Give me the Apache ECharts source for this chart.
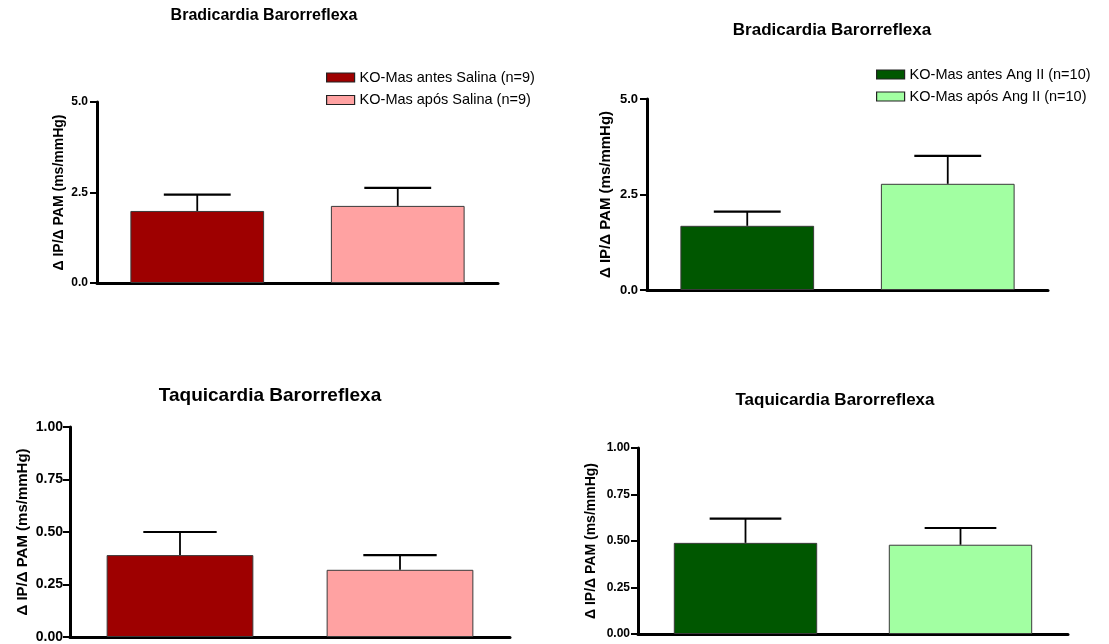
<!DOCTYPE html>
<html>
<head>
<meta charset="utf-8">
<title>Barorreflexa KO-Mas</title>
<script src="https://cdn.jsdelivr.net/npm/echarts@6/dist/echarts.min.js"></script>
<style>
  html, body { margin: 0; padding: 0; background: #fff; }
  #chart { width: 1109px; height: 644px; }
</style>
</head>
<body>
<div id="chart"></div>
<script>
// Group means and SEM (ms/mmHg)
const categories = ['antes', 'após'];

const seriesNames = {
  salinaAntes: 'KO-Mas antes Salina (n=9)',
  salinaApos: 'KO-Mas após Salina (n=9)',
  angAntes: 'KO-Mas antes Ang II (n=10)',
  angApos: 'KO-Mas após Ang II (n=10)'
};

const bradiSalinaMean = [1.99, 2.13];
const bradiSalinaSem = [0.45, 0.50];
const bradiAngMean = [1.68, 2.78];
const bradiAngSem = [0.37, 0.73];

const taquiSalinaMean = [0.39, 0.32];
const taquiSalinaSem = [0.11, 0.07];
const taquiAngMean = [0.49, 0.48];
const taquiAngSem = [0.13, 0.09];

const bradiTicks = { max: 5, interval: 2.5, digits: 1 };
const taquiTicks = { max: 1, interval: 0.25, digits: 2 };

const yTitle = 'Δ IP/Δ PAM (ms/mmHg)';
const titleBradi = 'Bradicardia Barorreflexa';
const titleTaqui = 'Taquicardia Barorreflexa';

const FONT = '"Liberation Sans", Arial, Helvetica, sans-serif';
const colors = {
  salinaAntes: '#9e0000',
  salinaApos: '#ffa2a2',
  angAntes: '#005700',
  angApos: '#a2ffa2'
};

// Panel layout: grid rectangles and text sizes
const panels = [
  { left: 97, top: 102, width: 401, height: 181, ticks: bradiTicks, mean: bradiSalinaMean, sem: bradiSalinaSem,
    names: [seriesNames.salinaAntes, seriesNames.salinaApos], cols: [colors.salinaAntes, colors.salinaApos],
    tickFont: 12, nameFont: 14, nameGap: 31, labelMargin: 9 },
  { left: 647, top: 99, width: 401, height: 191, ticks: bradiTicks, mean: bradiAngMean, sem: bradiAngSem,
    names: [seriesNames.angAntes, seriesNames.angApos], cols: [colors.angAntes, colors.angApos],
    tickFont: 13, nameFont: 15, nameGap: 34, labelMargin: 9 },
  { left: 70, top: 427, width: 440, height: 210, ticks: taquiTicks, mean: taquiSalinaMean, sem: taquiSalinaSem,
    names: [seriesNames.salinaAntes, seriesNames.salinaApos], cols: [colors.salinaAntes, colors.salinaApos],
    tickFont: 14, nameFont: 15, nameGap: 40, labelMargin: 7 },
  { left: 638, top: 448, width: 430, height: 186, ticks: taquiTicks, mean: taquiAngMean, sem: taquiAngSem,
    names: [seriesNames.angAntes, seriesNames.angApos], cols: [colors.angAntes, colors.angApos],
    tickFont: 12, nameFont: 14, nameGap: 40, labelMargin: 8 }
];

const grids = [], xAxes = [], yAxes = [], series = [];

panels.forEach(function (p, i) {
  grids.push({ left: p.left, top: p.top, width: p.width, height: p.height, containLabel: false });
  xAxes.push({
    type: 'category', gridIndex: i, data: categories,
    axisLine: { show: true, lineStyle: { color: '#000', width: 3 } },
    axisTick: { show: false }, axisLabel: { show: false }, splitLine: { show: false }
  });
  yAxes.push({
    type: 'value', gridIndex: i, min: 0, max: p.ticks.max, interval: p.ticks.interval,
    name: yTitle, nameLocation: 'middle', nameRotate: 90, nameGap: p.nameGap,
    nameTextStyle: { fontFamily: FONT, fontWeight: 'bold', fontSize: p.nameFont, color: '#000' },
    axisLine: { show: true, lineStyle: { color: '#000', width: 3 } },
    axisTick: { show: true, inside: false, length: 7, lineStyle: { color: '#000', width: 2 } },
    axisLabel: {
      margin: p.labelMargin, fontFamily: FONT, fontWeight: 'bold', fontSize: p.tickFont, color: '#000',
      formatter: function (v) { return v.toFixed(p.ticks.digits); }
    },
    splitLine: { show: false }
  });
  // two groups share one stack so each bar fills its own category slot
  [0, 1].forEach(function (k) {
    const data = categories.map(function (c, j) { return j === k ? p.mean[j] : '-'; });
    series.push({
      type: 'bar', name: p.names[k], xAxisIndex: i, yAxisIndex: i, stack: 'g' + i,
      barWidth: '66.7%', data: data,
      itemStyle: { color: p.cols[k], borderColor: '#3a3a3a', borderWidth: 1 },
      emphasis: { disabled: true }, z: 2
    });
  });
  // upper SEM whiskers
  series.push({
    type: 'custom', xAxisIndex: i, yAxisIndex: i, z: 5, silent: true,
    data: categories.map(function (c, j) { return [j, p.mean[j], p.mean[j] + p.sem[j]]; }),
    encode: { x: 0, y: [1, 2] },
    renderItem: function (params, api) {
      const base = api.coord([api.value(0), api.value(1)]);
      const top = api.coord([api.value(0), api.value(2)]);
      const half = api.size([1, 0])[0] * 0.667 / 4;
      return {
        type: 'group',
        children: [
          { type: 'line', shape: { x1: base[0], y1: base[1], x2: top[0], y2: top[1] }, style: { stroke: '#000', lineWidth: 1.8 } },
          { type: 'line', shape: { x1: top[0] - half, y1: top[1], x2: top[0] + half, y2: top[1] }, style: { stroke: '#000', lineWidth: 2.2 } }
        ]
      };
    }
  });
});

const legendCommon = {
  orient: 'vertical', icon: 'rect', itemWidth: 28, itemHeight: 9, selectedMode: false, padding: 0,
  itemStyle: { borderColor: '#222', borderWidth: 1.2 },
  textStyle: { fontFamily: FONT, fontSize: 14.5, color: '#000' }
};

const option = {
  backgroundColor: '#fff',
  animation: false,
  grid: grids,
  xAxis: xAxes,
  yAxis: yAxes,
  legend: [
    Object.assign({}, legendCommon, { left: 326, top: 70, itemGap: 7.5, data: [seriesNames.salinaAntes, seriesNames.salinaApos] }),
    Object.assign({}, legendCommon, { left: 876, top: 67, itemGap: 7, data: [seriesNames.angAntes, seriesNames.angApos] })
  ],
  graphic: [
    { type: 'text', x: 264, y: 16, style: { text: titleBradi, font: 'bold 16px ' + FONT, fill: '#000', textAlign: 'center', textVerticalAlign: 'middle' } },
    { type: 'text', x: 832, y: 30, style: { text: titleBradi, font: 'bold 17px ' + FONT, fill: '#000', textAlign: 'center', textVerticalAlign: 'middle' } },
    { type: 'text', x: 270, y: 396, style: { text: titleTaqui, font: 'bold 19px ' + FONT, fill: '#000', textAlign: 'center', textVerticalAlign: 'middle' } },
    { type: 'text', x: 835, y: 400, style: { text: titleTaqui, font: 'bold 17px ' + FONT, fill: '#000', textAlign: 'center', textVerticalAlign: 'middle' } }
  ],
  series: series
};

const chart = echarts.init(document.getElementById('chart'), null, { renderer: 'canvas' });
chart.setOption(option);
</script>
</body>
</html>
